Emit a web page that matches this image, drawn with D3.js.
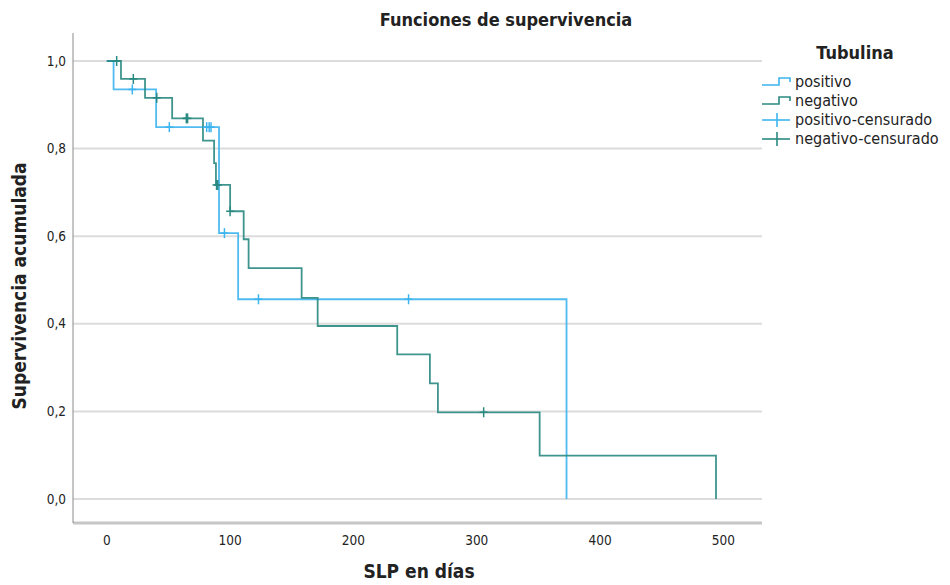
<!DOCTYPE html>
<html>
<head>
<meta charset="utf-8">
<script src="https://cdn.jsdelivr.net/npm/d3@7"></script>
<style>
  html, body { margin: 0; padding: 0; background: #fff; }
  svg { display: block; }
  text { font-family: "Liberation Sans Narrow", "DejaVu Sans Condensed", "Open Sans", sans-serif; fill: #222; }
</style>
</head>
<body>
<div id="chart"></div>
<script>
// Kaplan–Meier steps: [days, cumulative survival after the event]
const positivoSteps = [[0, 1.0], [5.5, 0.935], [40, 0.849], [91, 0.607], [106.5, 0.456], [372.8, 0.0]];
const negativoSteps = [[0, 1.0], [11.5, 0.959], [31, 0.916], [53, 0.869], [78, 0.818], [87, 0.767],
  [88.5, 0.717], [100, 0.657], [111, 0.593], [115, 0.527], [158, 0.459], [171, 0.395],
  [235.5, 0.330], [262, 0.264], [268.5, 0.198], [351, 0.099], [494, 0.0]];
// Censored observations: [days, survival at that time]
const positivoCensored = [[20.7, 0.935], [50.7, 0.849], [81, 0.849], [83, 0.849], [84.5, 0.849],
  [95.4, 0.607], [123, 0.456], [244.7, 0.456]];
const negativoCensored = [[8, 1.0], [21.5, 0.959], [40.5, 0.916], [64.5, 0.869], [65.5, 0.869],
  [89, 0.717], [90, 0.717], [100, 0.657], [305.6, 0.198]];

const xTicks = [0, 100, 200, 300, 400, 500];
const yTicks = [0, 0.2, 0.4, 0.6, 0.8, 1.0];
const groups = ["positivo", "negativo"];
const legendLabels = ["positivo", "negativo", "positivo-censurado", "negativo-censurado"];
const colors = { positivo: "#3cb4ee", negativo: "#2a8a82" };

const W = 950, H = 585;
const frame = { left: 73, right: 762, top: 33, bottom: 523 };

const svg = d3.select("#chart").append("svg").attr("width", W).attr("height", H);

const x = d3.scaleLinear().domain([0, 500]).range([106.8, 723.4]);
const y = d3.scaleLinear().domain([0, 1]).range([499, 61]);

// horizontal grid lines
svg.append("g").selectAll("line").data(yTicks).join("line")
  .attr("x1", frame.left).attr("x2", frame.right)
  .attr("y1", d => y(d)).attr("y2", d => y(d))
  .attr("stroke", "#dcdcdc").attr("stroke-width", 2);

// axes frame
svg.append("line").attr("x1", frame.left).attr("x2", frame.right)
  .attr("y1", frame.bottom).attr("y2", frame.bottom)
  .attr("stroke", "#c6c6c6").attr("stroke-width", 3);
svg.append("line").attr("x1", frame.left).attr("x2", frame.left)
  .attr("y1", frame.top).attr("y2", frame.bottom)
  .attr("stroke", "#8a8a8a").attr("stroke-width", 1);

// tick labels
const fmt = d => d3.format(".1f")(d).replace(".", ",");
svg.append("g").selectAll("text").data(yTicks).join("text")
  .attr("x", 66).attr("y", d => y(d) + 4.5)
  .attr("text-anchor", "end").attr("font-size", 13.5).attr("fill", "#333")
  .text(fmt);
svg.append("g").selectAll("text").data(xTicks).join("text")
  .attr("x", d => x(d)).attr("y", 545)
  .attr("text-anchor", "middle").attr("font-size", 13.5).attr("fill", "#333")
  .text(d => d);

// titles
svg.append("text").attr("x", 506).attr("y", 26).attr("text-anchor", "middle")
  .attr("font-size", 18).attr("font-weight", "bold").text("Funciones de supervivencia");
svg.append("text").attr("x", 419).attr("y", 578).attr("text-anchor", "middle")
  .attr("font-size", 19).attr("font-weight", "bold").text("SLP en días");
svg.append("text").attr("transform", "translate(26,286) rotate(-90)").attr("text-anchor", "middle")
  .attr("font-size", 19).attr("font-weight", "bold").text("Supervivencia acumulada");

// survival curves
const line = d3.line().x(d => x(d[0])).y(d => y(d[1])).curve(d3.curveStepAfter);
const curves = { positivo: positivoSteps, negativo: negativoSteps };
const censored = { positivo: positivoCensored, negativo: negativoCensored };

groups.forEach(g => {
  svg.append("path").datum(curves[g])
    .attr("fill", "none").attr("stroke", colors[g]).attr("stroke-width", 1.8)
    .attr("stroke-opacity", 0.9).attr("d", line);
});

groups.forEach(g => {
  const marks = svg.append("g").selectAll("g").data(censored[g]).join("g")
    .attr("transform", d => `translate(${x(d[0])},${y(d[1])})`)
    .attr("stroke", colors[g]).attr("stroke-width", 1.5);
  marks.append("line").attr("x1", 0).attr("x2", 0).attr("y1", -5).attr("y2", 5);
  marks.append("line").attr("x1", -4).attr("x2", 4).attr("y1", 0).attr("y2", 0);
});

// legend
const lg = svg.append("g");
lg.append("text").attr("x", 855).attr("y", 59).attr("text-anchor", "middle")
  .attr("font-size", 18).attr("font-weight", "bold").text("Tubulina");
const rowY = [82, 101, 120, 139];
legendLabels.forEach((lab, i) => {
  const g = i % 2 === 0 ? "positivo" : "negativo";
  const cy = rowY[i];
  if (i < 2) {
    lg.append("path")
      .attr("d", `M762,${cy + 3}H779V${cy - 4}H790V${cy}`)
      .attr("fill", "none").attr("stroke", colors[g]).attr("stroke-width", 1.6);
  } else {
    lg.append("line").attr("x1", 762).attr("x2", 790).attr("y1", cy).attr("y2", cy)
      .attr("stroke", colors[g]).attr("stroke-width", 1.6);
    lg.append("line").attr("x1", 777).attr("x2", 777).attr("y1", cy - 7).attr("y2", cy + 7)
      .attr("stroke", colors[g]).attr("stroke-width", 1.6);
  }
  lg.append("text").attr("x", 795).attr("y", cy + 5).attr("font-size", 16)
    .attr("fill", "#333").text(lab);
});
</script>
</body>
</html>
